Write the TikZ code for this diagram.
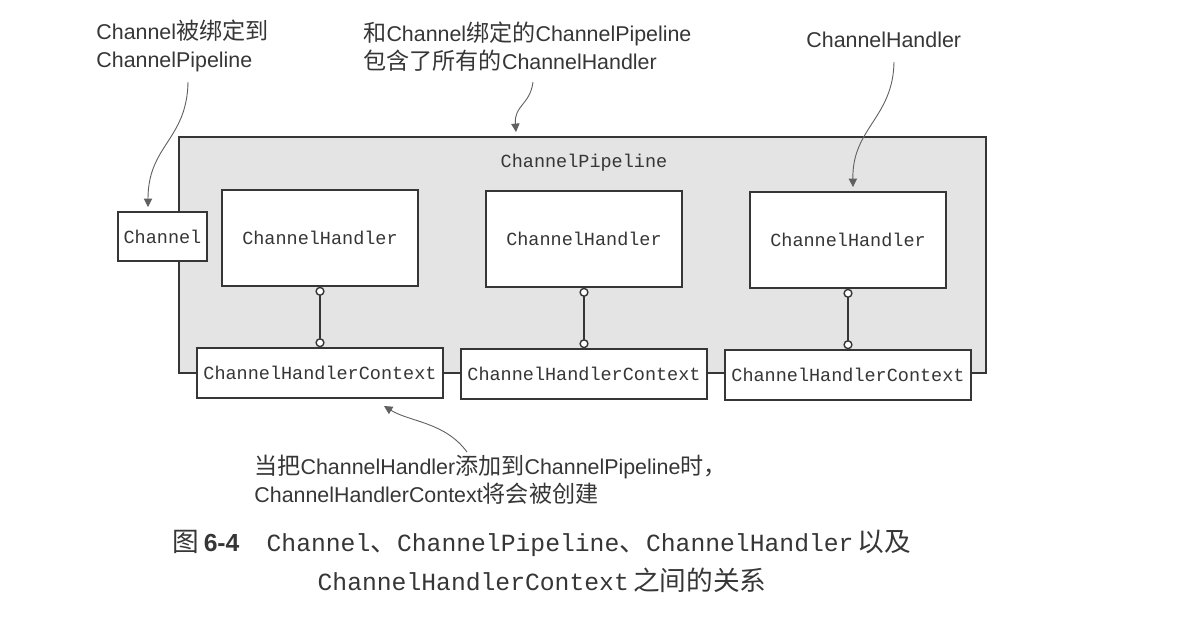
\documentclass[tikz,border=0pt]{standalone}
\usepackage{fontspec}
\setmainfont{Liberation Sans}
\setmonofont{Liberation Mono}
\newfontfamily\cjk[Scale=1.08]{Noto Sans CJK SC}
\usetikzlibrary{arrows.meta}

\definecolor{inkgray}{HTML}{363636}
\definecolor{pipegray}{HTML}{E4E4E4}
\definecolor{notegray}{HTML}{606060}

\tikzset{
  box/.style={draw=inkgray, line width=0.7pt, fill=white, inner sep=0pt,
    text=inkgray, font=\fontsize{9.25}{11}\ttfamily},
  chanbox/.style={box, minimum width=44.5pt, minimum height=24.5pt},
  handlerbox/.style={box, minimum width=98pt, minimum height=48pt},
  ctxbox/.style={box, minimum width=123pt, minimum height=25pt},
  pipebox/.style={draw=inkgray, line width=0.7pt, fill=pipegray, inner sep=0pt,
    minimum width=403.5pt, minimum height=118pt},
  link/.style={draw=inkgray, line width=0.7pt,
    {Circle[length=4.6pt, fill=white]}-{Circle[length=4.6pt, fill=white]}},
  note/.style={draw=notegray, line width=0.45pt, -{Triangle[length=4.2pt, width=4.2pt]}},
  label/.style={inner sep=0pt, align=left, text=inkgray, anchor=north west,
    font=\fontsize{10.7}{14}\selectfont},
}

\begin{document}
\begin{tikzpicture}[x=0.5pt, y=-0.5pt]
  \useasboundingbox (0,0) rectangle (1186,634);

  % pipeline with its handlers
  \node[pipebox] (pipe) at (582.5,255) {};
  \node[text=inkgray, font=\fontsize{9.25}{11}\ttfamily] (pipetitle) at (584,163) {ChannelPipeline};

  \node[chanbox] (chan) at (162.5,236.5) {Channel};

  \node[handlerbox] (h1) at (320,238) {ChannelHandler};
  \node[handlerbox] (h2) at (584,239) {ChannelHandler};
  \node[handlerbox] (h3) at (848,240) {ChannelHandler};

  \node[ctxbox] (c1) at (320,373) {ChannelHandlerContext};
  \node[ctxbox] (c2) at (584,374) {ChannelHandlerContext};
  \node[ctxbox] (c3) at (848,375) {ChannelHandlerContext};

  \draw[link] (h1.south) -- (c1.north);
  \draw[link] (h2.south) -- (c2.north);
  \draw[link] (h3.south) -- (c3.north);

  % notes
  \node[label] (notechan) at (96,20) {Channel{\cjk 被绑定到}\\ChannelPipeline};
  \node[label] (notepipe) at (363,22) {{\cjk 和}Channel{\cjk 绑定的}ChannelPipeline\\{\cjk 包含了所有的}ChannelHandler};
  \node[label] (notehand) at (806,32) {ChannelHandler};
  \node[label] (notectx) at (254,455) {{\cjk 当把}ChannelHandler{\cjk 添加到}ChannelPipeline{\cjk 时，}\\ChannelHandlerContext{\cjk 将会被创建}};

  \coordinate (s1) at (188,82);
  \coordinate (t1) at (148,207);
  \coordinate (s2) at (533,82);
  \coordinate (t2) at (516,132);
  \coordinate (s3) at (894,62);
  \coordinate (t3) at (853,187);
  \coordinate (s4) at (467,452);
  \coordinate (t4) at (384,406);

  \draw[note] (s1) .. controls (187,140) and (148,145) .. (t1);
  \draw[note] (s2) .. controls (530,105) and (514,105) .. (t2);
  \draw[note] (s3) .. controls (893,118) and (852,128) .. (t3);
  \draw[note] (s4) .. controls (445,422) and (410,422) .. (t4);

  % caption
  \node[inner sep=0pt, align=center, text=inkgray, font=\fontsize{12.35}{19.5}\selectfont] (caption) at (542,561)
    {{\cjk 图}\,\textbf{6-4}\hspace{1.1em}\texttt{Channel}{\cjk 、}\texttt{ChannelPipeline}{\cjk 、}\texttt{ChannelHandler}\,{\cjk 以及}\\
     \texttt{ChannelHandlerContext}\,{\cjk 之间的关系}};
\end{tikzpicture}
\end{document}
